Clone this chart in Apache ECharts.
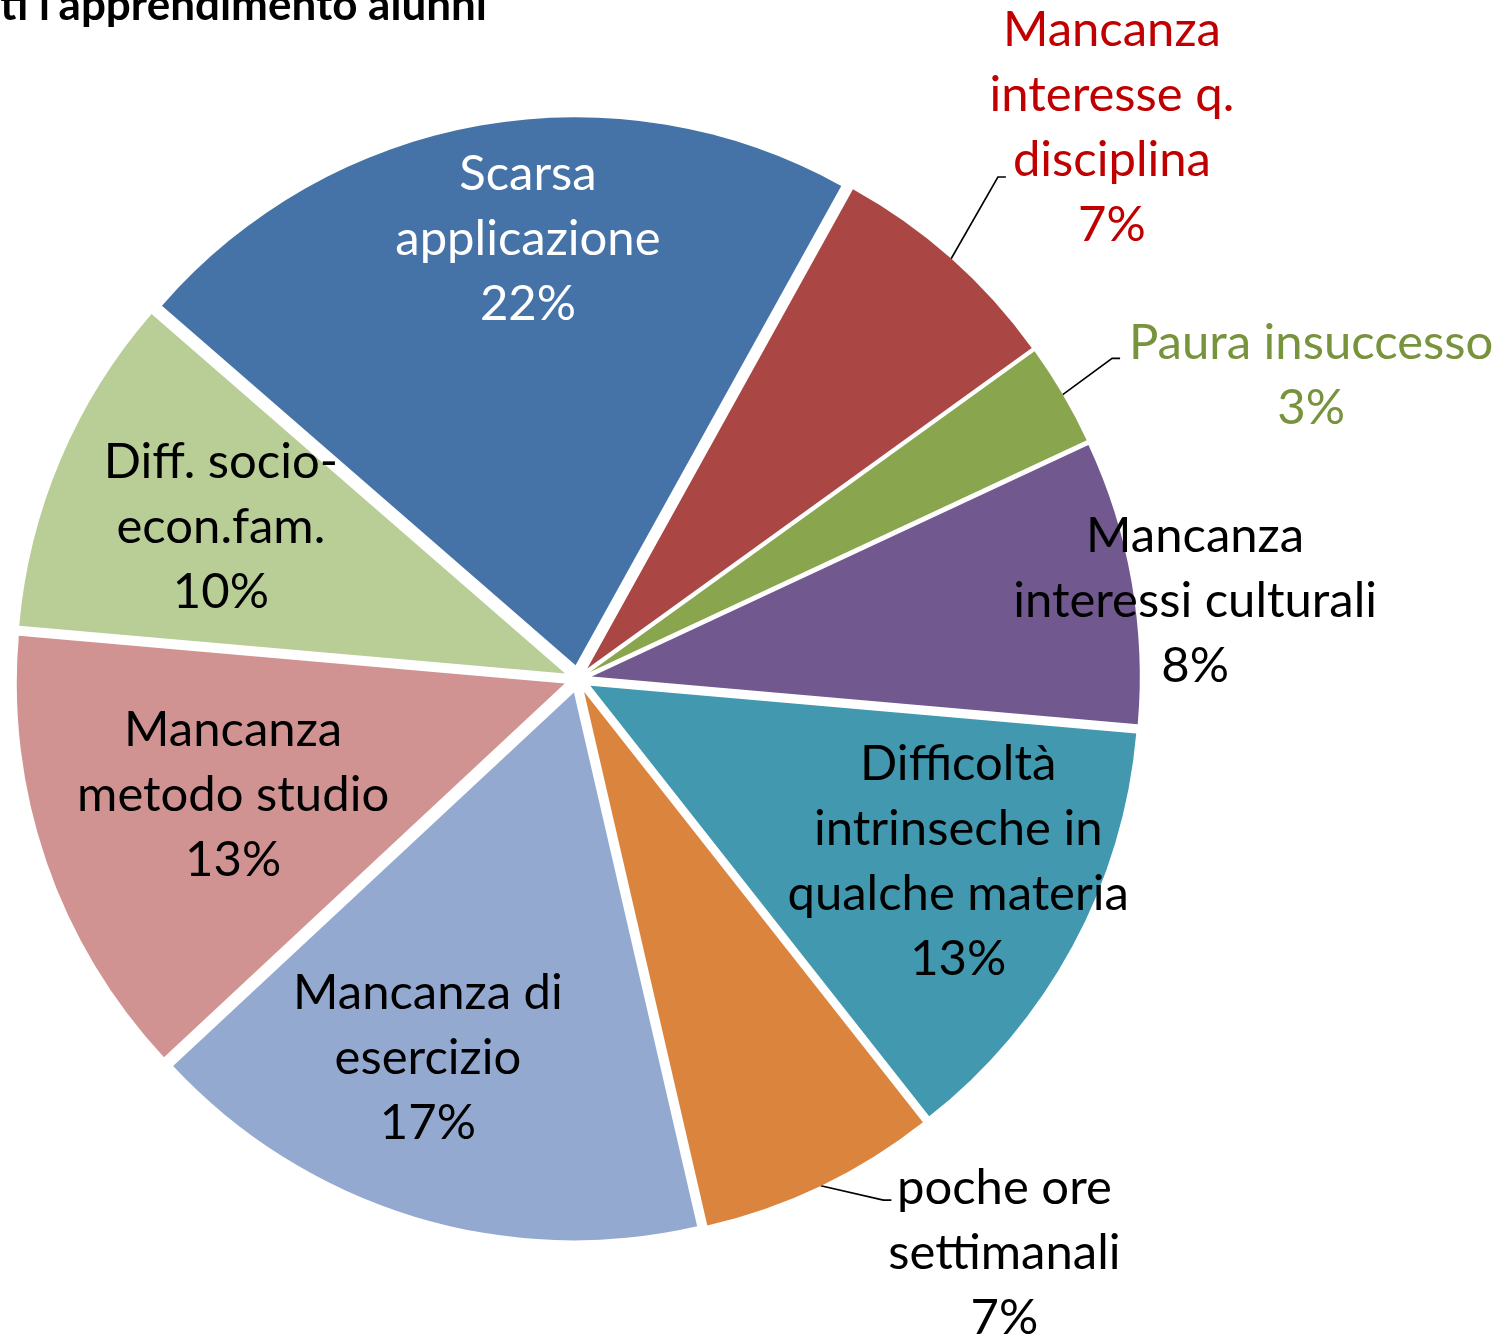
<!DOCTYPE html>
<html><head><meta charset="utf-8">
<script src="https://cdn.jsdelivr.net/npm/echarts@6/dist/echarts.min.js"></script>
<style>html,body{margin:0;padding:0;background:#fff}#c{width:1499px;height:1340px}</style>
</head><body><div id="c"></div>
<script>
const titleText = "ti l'apprendimento alunni";
const categories = [
  'Scarsa\napplicazione',
  'Mancanza\ninteresse q.\ndisciplina',
  'Paura insuccesso',
  'Mancanza\ninteressi culturali',
  'Difficoltà\nintrinseche in\nqualche materia',
  'poche ore\nsettimanali',
  'Mancanza di\nesercizio',
  'Mancanza\nmetodo studio',
  'Diff. socio-\necon.fam.'
];
const counts = [65, 21, 9, 25, 39, 21, 50, 40, 30];
const colors = ['#4572A7','#AA4643','#89A54E','#71588F','#4198AF','#DB843D','#93A9CF','#D19392','#B9CD96'];
const labelColors = ['#FFFFFF','#C00000','#77933C','#000000','#000000','#000000','#000000','#000000','#000000'];
const outsideLabel = [false, true, true, false, false, true, false, false, false];
// label placement: [angle shift from slice bisector (deg), distance as fraction of radius]
const labelPlace = [[3.5,0.807],[2.5,1.40],[7.9,1.448],[2.8,1.135],[-2.7,0.770],[-11,1.305],[4.6,0.744],[0.4,0.664],[0,0.708]];
// leader line end relative to label centre
const leaderEnd = [null,[-106,49],[-191,-17],null,null,[-113,-53],null,null,null];

const CX = 578, CY = 679, R = 548, OFF = 14, START = 139;
const total = counts.reduce((a, b) => a + b, 0);
const startTop = 90 - START; // clockwise from 12 o'clock
const bisector = [];
let acc = 0;
counts.forEach(v => { bisector.push(startTop + (acc + v / 2) / total * 360); acc += v; });
const rad = d => d * Math.PI / 180;
function polar(angDeg, dist) { return [CX + dist * Math.sin(rad(angDeg)), CY - dist * Math.cos(rad(angDeg))]; }

const FONT = 'Lato, "Open Sans", sans-serif';

// one pie per slice, each shifted outward along its bisector (exploded pie)
const series = categories.map((cat, i) => ({
  type: 'pie',
  silent: true,
  center: polar(bisector[i], OFF),
  radius: R,
  startAngle: START,
  clockwise: true,
  avoidLabelOverlap: false,
  emphasis: { disabled: true },
  itemStyle: { borderWidth: 0 },
  label: {
    fontFamily: FONT, fontSize: 49, lineHeight: 65,
    formatter: p => p.name + '\n' + Math.round(p.value / total * 100) + '%'
  },
  labelLine: { lineStyle: { color: '#000', width: 1.6 }, length: 20, length2: 10 },
  labelLayout: function (params) {
    const j = params.dataIndex;
    const pl = labelPlace[j];
    const [x, y] = polar(bisector[j] + pl[0], pl[1] * R);
    const res = { x: x, y: y, align: 'center', verticalAlign: 'middle' };
    if (outsideLabel[j]) {
      const s = polar(bisector[j], R + OFF);
      const e = leaderEnd[j];
      res.labelLinePoints = [s, [x + e[0] - 8, y + e[1]], [x + e[0], y + e[1]]];
    }
    return res;
  },
  data: categories.map((c, j) => ({
    name: c,
    value: counts[j],
    itemStyle: { color: j === i ? colors[j] : 'rgba(0,0,0,0)' },
    label: { show: j === i, position: outsideLabel[j] ? 'outside' : 'inside', color: labelColors[j], align: 'center' },
    labelLine: { show: j === i && outsideLabel[j] }
  }))
}));

const chart = echarts.init(document.getElementById('c'), null, {renderer: 'canvas'});
chart.setOption({
  animation: false,
  backgroundColor: '#ffffff',
  graphic: [{
    type: 'text', x: 487, y: 28,
    style: { text: titleText, font: 'bold 44px ' + FONT, fill: '#000', textAlign: 'right', textVerticalAlign: 'bottom' }
  }],
  series: series
});
</script>
</body></html>
